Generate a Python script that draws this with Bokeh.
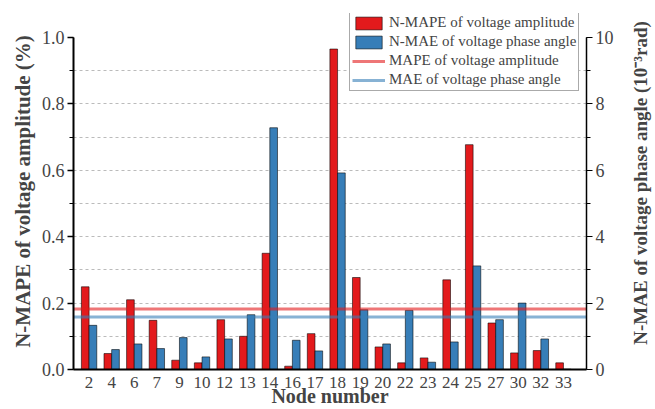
import math
from bokeh.plotting import figure
from bokeh.layouts import row
from bokeh.models import (Range1d, LinearAxis, SingleIntervalTicker, FixedTicker,
                          PrintfTickFormatter, Legend, LegendItem, ColumnDataSource, Label)
from bokeh.transform import dodge
from bokeh.embed import file_html
from bokeh.resources import INLINE

nodes = ["2", "4", "6", "7", "9", "10", "12", "13", "14", "16", "17", "18", "19",
         "20", "22", "23", "24", "25", "27", "30", "32", "33"]
nmape_amp = [0.249, 0.048, 0.210, 0.148, 0.028, 0.020, 0.150, 0.100, 0.350, 0.010,
             0.108, 0.965, 0.277, 0.068, 0.020, 0.035, 0.270, 0.677, 0.140, 0.050,
             0.057, 0.020]
nmae_ang = [1.33, 0.60, 0.77, 0.63, 0.96, 0.38, 0.92, 1.65, 7.28, 0.88, 0.56, 5.92,
            1.80, 0.77, 1.78, 0.22, 0.83, 3.12, 1.50, 2.00, 0.92, 0.01]
mape_amp = 0.182
mae_ang = 1.58

FONT = "Liberation Serif"
RED = "#e31a1c"
BLUE = "#377eb8"

src = ColumnDataSource(dict(idx=list(range(len(nodes))), amp=nmape_amp, ang=nmae_ang))

XL, XR = -0.69, len(nodes) + 0.02
p = figure(width=625, height=409, output_backend="svg", toolbar_location=None,
           x_range=Range1d(XL, XR), y_range=Range1d(0, 1.072),
           min_border_left=73, min_border_right=39, min_border_top=13, min_border_bottom=39,
           outline_line_color=None)
p.extra_y_ranges = {"right": Range1d(0, 10.72)}

r_red = p.vbar(x=dodge("idx", -0.17), top="amp", width=0.34, source=src,
               fill_color=RED, line_color="black", line_width=0.8, line_alpha=0.7)
r_blue = p.vbar(x=dodge("idx", 0.17), top="ang", width=0.34, source=src,
                y_range_name="right", fill_color=BLUE, line_color="black",
                line_width=0.8, line_alpha=0.7)

r_l1 = p.line(x=[XL, XR], y=[mape_amp, mape_amp],
              line_color=RED, line_alpha=0.6, line_width=3)
r_l2 = p.line(x=[XL, XR], y=[mae_ang, mae_ang], y_range_name="right",
              line_color=BLUE, line_alpha=0.6, line_width=3)

# grids
p.xgrid.grid_line_color = None
p.ygrid.ticker = FixedTicker(ticks=[0.1, 0.2, 0.3, 0.4, 0.5, 0.6, 0.7, 0.8, 0.9])
p.ygrid.grid_line_color = "#bbbbbb"
p.ygrid.grid_line_dash = "3 3"
p.ygrid.grid_line_width = 1

# x axis
xa = p.xaxis[0]
xa.ticker = FixedTicker(ticks=list(range(len(nodes))))
xa.major_label_overrides = {i: n for i, n in enumerate(nodes)}
xa.major_tick_line_color = None
xa.minor_tick_line_color = None
xa.axis_line_width = 2
xa.major_label_text_font = FONT
xa.major_label_text_font_size = "17px"
xa.major_label_standoff = 1
xa.axis_label = "Node number"
xa.axis_label_text_font = FONT
xa.axis_label_text_font_style = "bold"
xa.axis_label_text_font_size = "20px"
xa.axis_label_standoff = -6

# left axis
ya = p.yaxis[0]
ya.bounds = (0, 1.0)
ya.ticker = SingleIntervalTicker(interval=0.2, num_minor_ticks=2)
ya.formatter = PrintfTickFormatter(format="%.1f")
ya.axis_line_width = 2
ya.major_tick_in = 0
ya.major_tick_out = 6
ya.minor_tick_in = 0
ya.minor_tick_out = 4
ya.major_tick_line_width = 1.5
ya.major_label_text_font = FONT
ya.major_label_text_font_size = "18px"
ya.major_label_standoff = 3
ya.axis_label = "N-MAPE of voltage amplitude (%)"
ya.axis_label_text_font = FONT
ya.axis_label_text_font_style = "bold"
ya.axis_label_text_font_size = "21px"
ya.axis_label_standoff = 4

# right axis
ra = LinearAxis(y_range_name="right",
                ticker=SingleIntervalTicker(interval=2, num_minor_ticks=2))
ra.bounds = (0, 10)
ra.axis_line_width = 1.5
ra.major_tick_in = 0
ra.major_tick_out = 6
ra.minor_tick_in = 0
ra.minor_tick_out = 4
ra.major_label_text_font = FONT
ra.major_label_text_font_size = "18px"
ra.major_label_standoff = 3
p.add_layout(ra, "right")

legend = Legend(items=[
    LegendItem(label="N-MAPE of voltage amplitude", renderers=[r_red]),
    LegendItem(label="N-MAE of voltage phase angle", renderers=[r_blue]),
    LegendItem(label="MAPE of voltage amplitude", renderers=[r_l1]),
    LegendItem(label="MAE of voltage phase angle", renderers=[r_l2]),
], location=(276, 278))
legend.label_text_font = FONT
legend.label_text_font_size = "15px"
legend.label_height = 17
legend.label_standoff = 4
legend.glyph_width = 33
legend.glyph_height = 16
legend.spacing = 2
legend.padding = 2
legend.margin = 0
legend.border_line_color = "#555555"
legend.border_line_width = 1
legend.background_fill_alpha = 1
p.add_layout(legend, "center")

# right-hand axis title, reading bottom to top
side = figure(width=30, height=409, output_backend="svg", toolbar_location=None,
              x_range=Range1d(0, 1), y_range=Range1d(0, 1),
              x_axis_type=None, y_axis_type=None, min_border=0,
              outline_line_color=None)
side.grid.visible = False
side.add_layout(Label(x=0.5, y=0.524,
                      text="N-MAE of voltage phase angle (10\u207b\u00b3rad)",
                      angle=math.pi / 2, text_align="center", text_baseline="middle",
                      text_font=FONT, text_font_style="bold", text_font_size="19px"))

layout = row(p, side, spacing=0)
open("out.html", "w").write(file_html(layout, INLINE))
